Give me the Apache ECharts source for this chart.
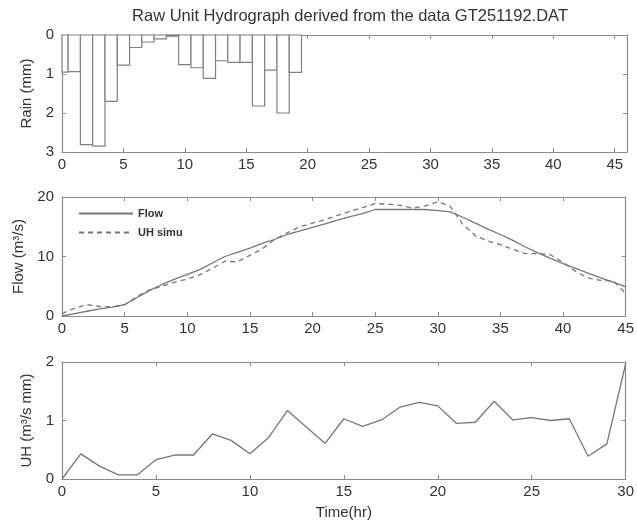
<!DOCTYPE html>
<html lang="en">
<head>
    <meta charset="utf-8">
    <title>Raw Unit Hydrograph</title>
    <script src="https://cdn.jsdelivr.net/npm/echarts@6/dist/echarts.min.js"></script>
</head>
<body style="margin:0;">
<div id="main" style="width: 637px; height: 526px;"></div>
<script type="text/javascript">
    // rain per hour (mm), hour 0..19
    const rainHours = [0, 1, 2, 3, 4, 5, 6, 7, 8, 9, 10, 11, 12, 13, 14, 15, 16, 17, 18, 19];
    const rainMm = [0.95, 0.94, 2.81, 2.85, 1.70, 0.77, 0.32, 0.18, 0.10, 0.03,
        0.76, 0.84, 1.11, 0.66, 0.70, 0.70, 1.82, 0.90, 2.00, 0.96];

    // observed flow and simulated flow (m3/s), hour 0..45
    const flowHours = [0, 1, 2, 3, 4, 5, 6, 7, 8, 9, 10, 11, 12, 13, 14, 15, 16, 17, 18, 19, 20, 21, 22,
        23, 24, 25, 26, 27, 28, 29, 30, 31, 32, 33, 34, 35, 36, 37, 38, 39, 40, 41, 42, 43, 44, 45];
    const flowObs = [0, 0.4, 0.8, 1.2, 1.5, 1.9, 3.1, 4.3, 5.3, 6.2, 7.0, 7.8, 8.9, 10.0, 10.7, 11.4,
        12.2, 12.9, 13.7, 14.3, 14.9, 15.5, 16.1, 16.7, 17.2, 17.9, 17.9, 17.9, 17.9, 17.9, 17.7, 17.5,
        16.6, 15.6, 14.6, 13.7, 12.7, 11.6, 10.6, 9.7, 8.8, 8.0, 7.2, 6.4, 5.7, 4.9];
    const flowSim = [0.4, 1.3, 1.9, 1.6, 1.5, 1.9, 3.3, 4.4, 5.0, 5.7, 6.2, 6.9, 8.0, 9.2, 9.1, 10.2,
        11.3, 12.9, 14.0, 15.0, 15.6, 16.2, 16.9, 17.6, 18.2, 18.9, 18.8, 18.6, 18.1, 18.5, 19.2, 18.4,
        15.4, 13.5, 12.6, 12.0, 11.2, 10.5, 10.5, 10.3, 9.0, 7.5, 6.4, 6.0, 5.9, 3.8];

    // unit hydrograph ordinates (m3/s mm), hour 0..30
    const uhHours = [0, 1, 2, 3, 4, 5, 6, 7, 8, 9, 10, 11, 12, 13, 14, 15, 16, 17, 18, 19, 20, 21, 22,
        23, 24, 25, 26, 27, 28, 29, 30];
    const uhValues = [0, 0.43, 0.22, 0.07, 0.07, 0.33, 0.41, 0.41, 0.77, 0.66, 0.43, 0.71, 1.17, 0.89,
        0.61, 1.03, 0.90, 1.01, 1.23, 1.31, 1.25, 0.95, 0.97, 1.33, 1.01, 1.05, 1.00, 1.03, 0.39, 0.60, 1.97];

    // tick labels
    const rainTicks = [0, 1, 2, 3];
    const flowTicks = [0, 10, 20];
    const uhTicks = [0, 1, 2];

    const FONT = 'Liberation Sans';
    const TXT = '#333';
    const AX = '#8c8c8c';
    const LINE = '#777';

    function pairs(xs, ys) {
        return xs.map(function (x, i) { return [x, ys[i]]; });
    }

    function xAx(grid, max, showLabels, name) {
        return {
            type: 'value', gridIndex: grid, min: 0, max: max, interval: 5,
            position: showLabels ? 'bottom' : 'top',
            name: name || '', nameLocation: 'middle', nameGap: 26,
            nameTextStyle: {fontFamily: FONT, fontSize: 15, color: TXT},
            axisLine: {onZero: false, lineStyle: {color: AX, width: 1.2}},
            axisTick: {show: true, inside: true, length: 4, lineStyle: {color: AX}},
            axisLabel: {
                show: showLabels, margin: 5, fontFamily: FONT, fontSize: 15, color: TXT,
                formatter: function (v) { return v % 5 === 0 ? v : ''; }
            },
            splitLine: {show: false}
        };
    }

    function yAx(grid, ticks, showLabels, name, gap, inverse) {
        return {
            type: 'value', gridIndex: grid,
            min: ticks[0], max: ticks[ticks.length - 1], interval: ticks[1] - ticks[0],
            inverse: !!inverse,
            position: showLabels ? 'left' : 'right',
            name: name || '', nameLocation: 'middle', nameGap: gap || 0, nameRotate: 90,
            nameTextStyle: {fontFamily: FONT, fontSize: 15, color: TXT},
            axisLine: {show: true, onZero: false, lineStyle: {color: AX, width: 1.2}},
            axisTick: {show: true, inside: true, length: 4, lineStyle: {color: AX}},
            axisLabel: {show: showLabels, margin: 8, fontFamily: FONT, fontSize: 15, color: TXT},
            splitLine: {show: false}
        };
    }

    function drawRainBar(params, api) {
        const x = api.value(0), y = api.value(1);
        const p0 = api.coord([x - 0.5, 0]);
        const p1 = api.coord([x + 0.5, y]);
        const cs = params.coordSys;
        const shape = echarts.graphic.clipRectByRect(
            {x: p0[0], y: p0[1], width: p1[0] - p0[0], height: p1[1] - p0[1]},
            {x: cs.x, y: cs.y, width: cs.width, height: cs.height});
        return shape && {
            type: 'rect', shape: shape,
            style: {fill: '#fff', stroke: '#808080', lineWidth: 1.2}
        };
    }

    const myChart = echarts.init(document.getElementById('main'), null, {renderer: 'canvas'});
    const option = {
        backgroundColor: '#fff',
        animation: false,
        title: {
            text: 'Raw Unit Hydrograph derived from the data GT251192.DAT',
            left: 345, top: 3, textAlign: 'center',
            textStyle: {fontFamily: FONT, fontSize: 16.5, fontWeight: 'normal', color: TXT}
        },
        legend: {
            data: ['Flow', 'UH simu'],
            orient: 'vertical', left: 78, top: 208, padding: 0,
            itemWidth: 54, itemHeight: 10, itemGap: 8,
            itemStyle: {opacity: 0, borderWidth: 0},
            textStyle: {fontFamily: FONT, fontSize: 11, fontWeight: 'bold', color: TXT}
        },
        grid: [
            {left: 62, right: 10, top: 35, height: 117},
            {left: 62, right: 10, top: 197, height: 119},
            {left: 62, right: 10, top: 362, height: 117}
        ],
        xAxis: [
            xAx(0, 46, true), xAx(0, 46, false),
            xAx(1, 45, true), xAx(1, 45, false),
            xAx(2, 30, true, 'Time(hr)'), xAx(2, 30, false)
        ],
        yAxis: [
            yAx(0, rainTicks, true, 'Rain (mm)', 28, true), yAx(0, rainTicks, false, '', 0, true),
            yAx(1, flowTicks, true, 'Flow (m³/s)', 36), yAx(1, flowTicks, false),
            yAx(2, uhTicks, true, 'UH (m³/s mm)', 28), yAx(2, uhTicks, false)
        ],
        series: [
            {
                name: 'Rain', type: 'custom', xAxisIndex: 0, yAxisIndex: 0,
                renderItem: drawRainBar, data: pairs(rainHours, rainMm)
            },
            {
                name: 'Flow', type: 'line', xAxisIndex: 2, yAxisIndex: 2,
                symbol: 'none', data: pairs(flowHours, flowObs),
                lineStyle: {color: LINE, width: 1.3}, itemStyle: {color: LINE}
            },
            {
                name: 'UH simu', type: 'line', xAxisIndex: 2, yAxisIndex: 2,
                symbol: 'none', data: pairs(flowHours, flowSim),
                lineStyle: {color: LINE, width: 1.3, type: [5, 4]}, itemStyle: {color: LINE}
            },
            {
                name: 'UH', type: 'line', xAxisIndex: 4, yAxisIndex: 4,
                symbol: 'none', data: pairs(uhHours, uhValues),
                lineStyle: {color: LINE, width: 1.3}, itemStyle: {color: LINE}
            }
        ]
    };
    myChart.setOption(option);
</script>
</body>
</html>
